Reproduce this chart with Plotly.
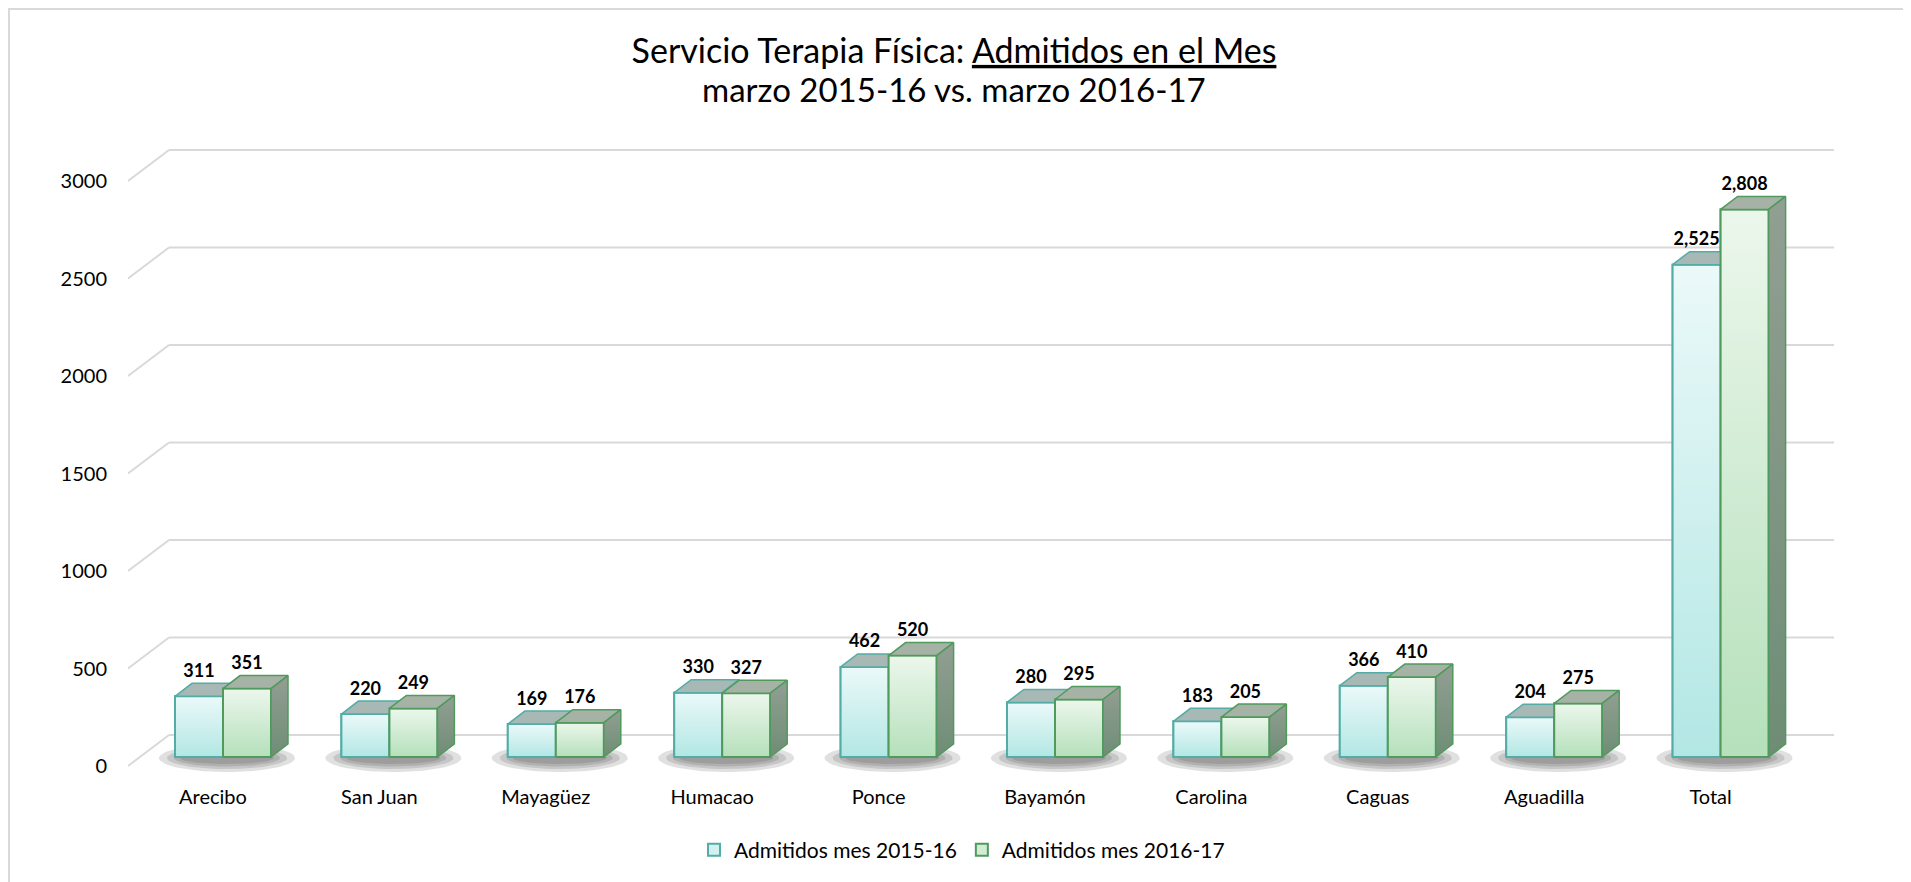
import numpy as np
import plotly.graph_objects as go

# ---------------- data ----------------
categories = ["Arecibo", "San Juan", "Mayagüez", "Humacao", "Ponce",
              "Bayamón", "Carolina", "Caguas", "Aguadilla", "Total"]
admitidos_2015_16 = [311, 220, 169, 330, 462, 280, 183, 366, 204, 2525]
admitidos_2016_17 = [351, 249, 176, 327, 520, 295, 205, 410, 275, 2808]
series_names = ["Admitidos mes 2015-16", "Admitidos mes 2016-17"]
y_ticks = [0, 500, 1000, 1500, 2000, 2500, 3000]

# ---------------- geometry (screen pixels) ----------------
PAGE_OFF = 8                      # default body margin of the html page
W, H = 1911 - PAGE_OFF, 882 - PAGE_OFF
L, R, T, B = 128, 1834, 140, 775  # plot area on screen
X0, XSTEP = 223, 166.4            # centre of first group, group spacing
PXU = 0.195                       # px per unit
BASE_BAR, BASE_FLOOR, BASE_BACK = 757, 766, 735
BACK_LEFT = 169


def xr(px):
    return (px - X0) / XSTEP


def xp(px):   # screen px -> paper x
    return (px - L) / (R - L)


def yp(px):   # screen px -> paper y
    return (B - px) / (B - T)


def xc(px):   # screen px -> container x
    return (px - PAGE_OFF) / W


def yc(px):   # screen px -> container y
    return 1 - (px - PAGE_OFF) / H


x_range = [xr(L), xr(R)]
yb_range = [(BASE_BAR - B) / PXU, (BASE_BAR - T) / PXU]
yl_range = [(BASE_FLOOR - B) / PXU, (BASE_FLOOR - T) / PXU]

BW = 48 / XSTEP
DX = 17 / XSTEP
DY = 13 / PXU
LABEL_DY = 24 / PXU
BACK_DU = (BASE_FLOOR - BASE_BACK) / PXU
x_back_left = xr(BACK_LEFT)

FONT = "Lato, Carlito, Calibri, sans-serif"

styles = [
    dict(bottom="#B2E7E4", top="#EBF9F9", border="#52ADA7", topface="#A8B8B5",
         side_bottom="#7E9C96", side_top="#97A8A4", legend="#D2F1F0"),
    dict(bottom="#B5E0BB", top="#ECF7EC", border="#4F9A5C", topface="#A6B2A6",
         side_bottom="#6E8D75", side_top="#929F93", legend="#D3ECD5"),
]

series = [admitidos_2015_16, admitidos_2016_17]
idx = np.arange(len(categories))

fig = go.Figure()

# ---- floor shadows (label axis y) ----
t = np.linspace(0, 2 * np.pi, 60)
shadow_levels = [(68, 14), (60, 11), (53, 8.5), (47, 6)]
shadow_cy = (BASE_FLOOR - 758) / PXU
for i in idx:
    cx = i + 4 / XSTEP
    for a, b in shadow_levels:
        fig.add_trace(go.Scatter(
            x=cx + a / XSTEP * np.cos(t), y=shadow_cy + b / PXU * np.sin(t),
            mode="lines", fill="toself", line=dict(width=0),
            fillcolor="rgba(60,60,60,0.16)", hoverinfo="skip", showlegend=False,
            yaxis="y"))

# ---- bars (front faces) ----
offsets = [-BW, 0.0]
for s, vals in enumerate(series):
    st = styles[s]
    fig.add_trace(go.Bar(
        x=idx, y=vals, width=BW, offset=offsets[s], name=series_names[s],
        marker=dict(color=st["legend"], line=dict(color=st["border"], width=2)),
        yaxis="y2"))

# ---- 3D faces ----
for i in idx:
    for s, vals in enumerate(series):
        st = styles[s]
        v = vals[i]
        x0 = i + offsets[s]
        x1 = x0 + BW
        # front with gradient
        fig.add_trace(go.Scatter(
            x=[x0, x1, x1, x0, x0], y=[0, 0, v, v, 0], mode="lines", fill="toself",
            line=dict(color=st["border"], width=2),
            fillgradient=dict(type="vertical",
                              colorscale=[[0, st["bottom"]], [1, st["top"]]]),
            hoverinfo="skip", showlegend=False, yaxis="y2"))
        # top face
        fig.add_trace(go.Scatter(
            x=[x0, x1, x1 + DX, x0 + DX, x0], y=[v, v, v + DY, v + DY, v],
            mode="lines", fill="toself", fillcolor=st["topface"],
            line=dict(color=st["border"], width=1.5),
            hoverinfo="skip", showlegend=False, yaxis="y2"))
        # side face
        fig.add_trace(go.Scatter(
            x=[x1, x1, x1 + DX, x1 + DX, x1], y=[0, v, v + DY, DY, 0],
            mode="lines", fill="toself",
            line=dict(color=st["border"], width=1.5),
            fillgradient=dict(type="vertical",
                              colorscale=[[0, st["side_bottom"]], [1, st["side_top"]]]),
            hoverinfo="skip", showlegend=False, yaxis="y2"))

# ---- value labels ----
for s, vals in enumerate(series):
    fig.add_trace(go.Scatter(
        x=idx + offsets[s] + BW / 2, y=np.array(vals) + LABEL_DY, mode="text",
        text=[f"{v:,}" for v in vals], textposition="middle center",
        textfont=dict(family=FONT, size=18, color="#000000", weight="bold"),
        hoverinfo="skip", showlegend=False, yaxis="y2"))

# ---- 3D gridlines (back wall + left wall diagonals) ----
shapes = []
for v in y_ticks:
    shapes.append(dict(type="line", xref="x", yref="y", layer="below",
                       x0=x_back_left, x1=x_range[1], y0=v + BACK_DU, y1=v + BACK_DU,
                       line=dict(color="#D9D9D9", width=2)))
    shapes.append(dict(type="line", xref="x", yref="y", layer="below",
                       x0=x_range[0], x1=x_back_left, y0=v, y1=v + BACK_DU,
                       line=dict(color="#D9D9D9", width=2)))
# chart border
shapes.append(dict(type="rect", xref="paper", yref="paper",
                   x0=xp(9), x1=xp(1904), y0=yp(890), y1=yp(9),
                   line=dict(color="#D9D9D9", width=2), fillcolor="rgba(0,0,0,0)",
                   layer="above"))

fig.update_layout(
    width=W, height=H,
    margin=dict(l=L - PAGE_OFF, r=W - (R - PAGE_OFF), t=T - PAGE_OFF,
                b=H - (B - PAGE_OFF), autoexpand=False),
    paper_bgcolor="white", plot_bgcolor="white",
    font=dict(family=FONT, size=20, color="#000000"),
    barmode="overlay",
    title=dict(
        text="Servicio Terapia Física: <span style='text-decoration:underline'>Admitidos en el Mes</span>",
        x=xc(954), xref="container", xanchor="center",
        y=yc(51), yref="container", yanchor="middle",
        font=dict(family=FONT, size=34, color="#000000")),
    annotations=[dict(text="marzo 2015-16 vs. marzo 2016-17", xref="paper", yref="paper",
                      x=xp(954), y=yp(89), xanchor="center", yanchor="middle",
                      showarrow=False,
                      font=dict(family=FONT, size=33, color="#000000"))],
    xaxis=dict(range=x_range, tickmode="array", tickvals=idx, ticktext=categories,
               showgrid=False, zeroline=False, showline=False, ticks="",
               ticklabelshift=-10, ticklabelstandoff=8,
               tickfont=dict(family=FONT, size=20, color="#000000")),
    yaxis=dict(range=yl_range, tickmode="array", tickvals=y_ticks,
               showgrid=False, zeroline=False, showline=False, ticks="",
               ticklabelstandoff=20,
               tickfont=dict(family=FONT, size=20, color="#000000")),
    yaxis2=dict(range=yb_range, overlaying="y", anchor="x", side="left",
                showgrid=False, zeroline=False, showline=False,
                showticklabels=False, ticks=""),
    legend=dict(orientation="h", x=xp(962), xanchor="center",
                y=yp(850), yanchor="middle",
                font=dict(family=FONT, size=21, color="#000000"),
                bgcolor="rgba(0,0,0,0)"),
    shapes=shapes,
    showlegend=True,
)

fig.write_html("out.html")
